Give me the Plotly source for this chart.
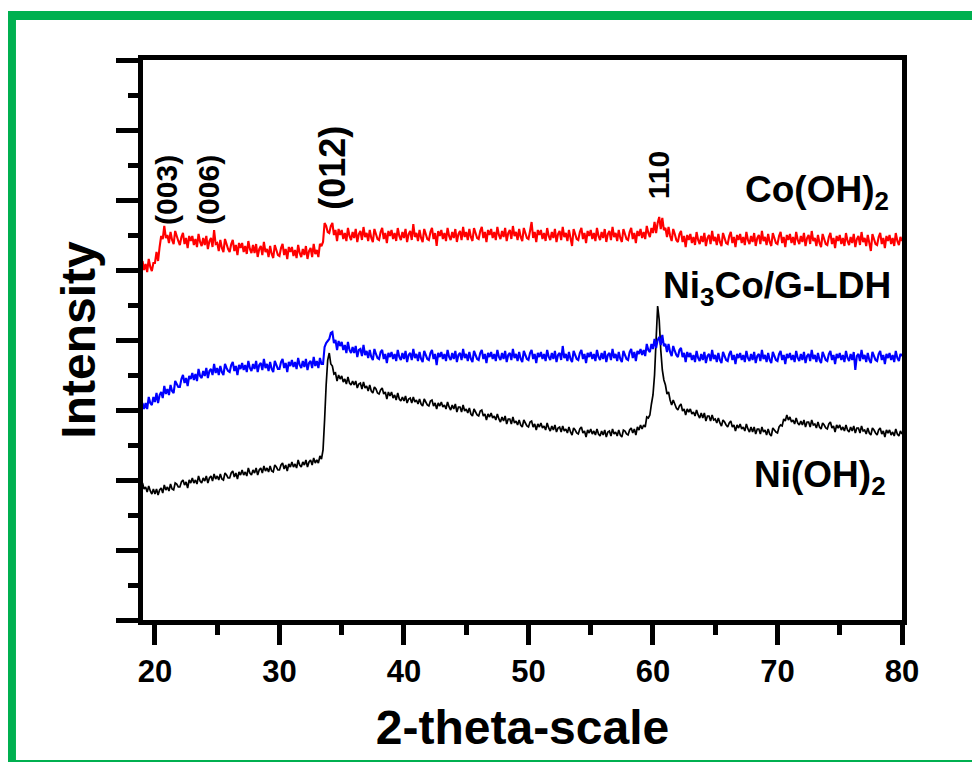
import plotly.graph_objects as go

# 2-theta scan grid (degrees): 8 samples per degree from 19 to 80
two_theta_start = 19.0
two_theta_step = 0.125

# Intensities (arbitrary units, stacked/offset as in the figure), one row per degree
co_oh2 = [
    359, 350, 356, 348, 361, 353, 349, 357,
    357, 368, 359, 373, 384, 381, 394, 382,
    385, 377, 388, 380, 376, 389, 384, 379,
    375, 383, 387, 376, 382, 372, 384, 379,
    384, 375, 381, 373, 386, 378, 374, 382,
    375, 384, 371, 379, 382, 373, 390, 376,
    377, 369, 380, 372, 368, 381, 376, 371,
    368, 376, 380, 369, 375, 365, 377, 372,
    377, 368, 374, 366, 379, 371, 367, 375,
    367, 376, 363, 371, 374, 365, 378, 368,
    371, 363, 374, 366, 362, 375, 370, 365,
    364, 372, 376, 365, 371, 361, 373, 368,
    373, 364, 370, 362, 375, 367, 363, 371,
    365, 374, 361, 369, 372, 363, 376, 366,
    370, 363, 376, 374, 378, 397, 394, 388,
    387, 394, 397, 385, 390, 379, 391, 385,
    390, 381, 387, 379, 392, 384, 380, 388,
    382, 391, 378, 386, 389, 380, 393, 383,
    387, 379, 390, 382, 378, 391, 386, 381,
    380, 388, 392, 381, 387, 377, 389, 384,
    390, 381, 387, 379, 392, 384, 380, 388,
    382, 391, 378, 386, 389, 380, 396, 383,
    387, 379, 390, 382, 378, 391, 386, 381,
    380, 388, 392, 381, 387, 374, 389, 384,
    390, 381, 387, 379, 392, 384, 380, 388,
    382, 391, 378, 386, 389, 380, 393, 383,
    388, 380, 391, 383, 379, 392, 387, 382,
    381, 389, 393, 382, 388, 378, 390, 385,
    391, 382, 388, 380, 393, 385, 381, 389,
    383, 392, 379, 387, 390, 381, 394, 384,
    388, 380, 391, 383, 379, 392, 387, 382,
    381, 389, 398, 382, 388, 378, 390, 385,
    390, 381, 387, 379, 392, 384, 380, 388,
    382, 391, 378, 386, 389, 380, 393, 383,
    387, 379, 390, 382, 374, 391, 386, 381,
    380, 388, 392, 381, 387, 377, 389, 384,
    390, 381, 387, 379, 392, 384, 380, 388,
    382, 391, 378, 386, 389, 380, 393, 383,
    387, 379, 390, 382, 378, 391, 386, 381,
    380, 388, 392, 381, 387, 377, 389, 384,
    391, 382, 388, 381, 394, 387, 383, 392,
    387, 398, 387, 397, 403, 391, 402, 390,
    392, 383, 393, 384, 379, 391, 386, 380,
    378, 386, 389, 378, 384, 373, 385, 380,
    386, 377, 383, 375, 388, 380, 376, 384,
    378, 387, 374, 382, 385, 376, 389, 379,
    383, 375, 386, 378, 374, 387, 382, 377,
    376, 384, 388, 377, 383, 373, 385, 380,
    386, 377, 383, 375, 388, 380, 376, 384,
    378, 387, 374, 382, 385, 376, 389, 379,
    383, 375, 386, 378, 374, 387, 382, 377,
    376, 384, 388, 377, 383, 373, 385, 380,
    386, 377, 383, 375, 388, 380, 376, 384,
    378, 387, 374, 382, 385, 376, 389, 379,
    382, 374, 385, 377, 373, 386, 381, 376,
    375, 383, 387, 376, 382, 372, 384, 379,
    385, 376, 382, 374, 387, 379, 375, 383,
    377, 386, 373, 381, 384, 375, 388, 378,
    382, 374, 385, 377, 369, 386, 381, 376,
    375, 383, 387, 376, 382, 372, 384, 379,
    385, 376, 382, 374, 387, 379, 375, 383,
    379,
]

ni3co_g_ldh = [
    217, 211, 217, 211, 223, 217, 215, 223,
    218, 227, 217, 225, 228, 222, 234, 226,
    231, 225, 235, 229, 227, 239, 236, 233,
    233, 241, 245, 237, 242, 234, 244, 241,
    247, 240, 246, 239, 251, 244, 242, 249,
    244, 252, 242, 249, 251, 245, 256, 247,
    252, 245, 254, 248, 245, 256, 252, 249,
    248, 255, 258, 249, 254, 245, 255, 251,
    257, 250, 255, 248, 259, 252, 249, 256,
    251, 259, 248, 255, 257, 250, 261, 252,
    256, 249, 258, 251, 248, 259, 255, 251,
    251, 258, 261, 252, 257, 248, 258, 254,
    260, 253, 258, 251, 262, 255, 252, 259,
    253, 261, 250, 257, 259, 252, 263, 254,
    259, 252, 262, 256, 256, 273, 277, 279,
    281, 287, 288, 277, 280, 270, 279, 274,
    278, 270, 275, 267, 278, 270, 267, 273,
    267, 274, 263, 270, 271, 264, 275, 265,
    269, 262, 270, 263, 260, 271, 266, 262,
    261, 268, 270, 261, 266, 257, 267, 263,
    268, 261, 266, 259, 270, 263, 260, 267,
    261, 269, 258, 265, 267, 260, 271, 262,
    266, 259, 268, 261, 258, 269, 265, 261,
    260, 267, 270, 261, 266, 255, 267, 263,
    268, 261, 266, 259, 270, 263, 260, 267,
    261, 269, 258, 265, 267, 260, 271, 262,
    266, 259, 268, 261, 258, 269, 265, 261,
    260, 267, 270, 261, 266, 257, 267, 263,
    268, 261, 266, 259, 270, 263, 260, 267,
    261, 269, 258, 265, 267, 260, 271, 262,
    266, 259, 268, 261, 258, 269, 265, 261,
    260, 267, 270, 261, 266, 257, 267, 263,
    268, 261, 266, 259, 270, 263, 260, 267,
    261, 269, 258, 265, 267, 260, 274, 262,
    266, 259, 268, 261, 258, 269, 265, 261,
    260, 267, 270, 261, 266, 257, 267, 263,
    268, 261, 266, 259, 270, 263, 260, 267,
    261, 269, 258, 265, 267, 260, 271, 262,
    266, 259, 268, 261, 258, 269, 265, 261,
    260, 268, 271, 262, 268, 259, 269, 266,
    271, 265, 270, 264, 276, 270, 268, 276,
    271, 281, 272, 280, 283, 275, 285, 274,
    276, 268, 276, 268, 264, 274, 269, 265,
    263, 270, 272, 263, 267, 258, 268, 263,
    267, 260, 265, 258, 269, 262, 259, 266,
    260, 268, 257, 264, 266, 259, 270, 261,
    265, 258, 267, 260, 257, 268, 264, 260,
    259, 266, 269, 260, 265, 256, 266, 262,
    267, 260, 265, 258, 269, 262, 259, 266,
    260, 268, 257, 264, 266, 259, 270, 261,
    265, 258, 267, 260, 257, 268, 264, 260,
    259, 266, 269, 260, 265, 256, 266, 262,
    267, 260, 265, 258, 269, 262, 259, 266,
    260, 268, 257, 264, 266, 259, 270, 261,
    265, 258, 267, 260, 257, 268, 264, 260,
    259, 266, 269, 260, 265, 256, 266, 262,
    267, 260, 265, 258, 269, 262, 259, 266,
    260, 268, 250, 264, 266, 259, 270, 261,
    265, 258, 267, 260, 257, 268, 264, 260,
    259, 266, 269, 260, 265, 256, 266, 262,
    267, 260, 265, 258, 269, 262, 259, 266,
    264,
]

ni_oh2 = [
    137, 131, 133, 128, 134, 129, 126, 131,
    126, 131, 125, 130, 132, 127, 135, 130,
    133, 129, 136, 131, 130, 137, 136, 133,
    133, 138, 140, 135, 138, 132, 140, 137,
    142, 137, 140, 136, 144, 139, 137, 142,
    139, 144, 137, 142, 144, 139, 146, 141,
    144, 140, 146, 141, 140, 147, 145, 142,
    142, 147, 149, 143, 147, 141, 148, 145,
    150, 145, 148, 144, 152, 147, 145, 150,
    147, 152, 145, 150, 152, 147, 154, 149,
    152, 148, 154, 149, 148, 155, 153, 150,
    150, 155, 157, 151, 155, 149, 156, 153,
    158, 153, 156, 152, 160, 155, 153, 158,
    155, 160, 153, 158, 160, 155, 162, 157,
    160, 157, 164, 161, 170, 200, 235, 260,
    267, 256, 254, 246, 247, 239, 245, 241,
    244, 238, 241, 236, 243, 237, 235, 239,
    235, 239, 232, 236, 237, 231, 238, 232,
    234, 229, 235, 229, 227, 233, 231, 227,
    226, 230, 232, 226, 228, 221, 228, 224,
    228, 222, 225, 220, 227, 221, 219, 223,
    219, 224, 217, 221, 222, 217, 223, 218,
    220, 216, 221, 216, 214, 221, 218, 215,
    214, 219, 220, 214, 217, 211, 217, 214,
    218, 213, 215, 211, 218, 213, 210, 215,
    211, 216, 208, 213, 213, 208, 215, 209,
    211, 207, 212, 206, 204, 211, 208, 205,
    204, 209, 210, 204, 206, 200, 206, 203,
    207, 202, 204, 200, 206, 201, 198, 203,
    199, 204, 196, 201, 201, 196, 203, 197,
    199, 195, 200, 195, 193, 200, 197, 194,
    193, 198, 199, 193, 196, 190, 196, 193,
    197, 192, 194, 190, 197, 192, 189, 194,
    190, 195, 188, 192, 193, 188, 194, 189,
    191, 187, 193, 188, 185, 192, 190, 187,
    186, 191, 193, 187, 189, 183, 190, 187,
    191, 186, 189, 185, 191, 186, 184, 189,
    185, 190, 183, 188, 189, 184, 191, 186,
    188, 184, 190, 185, 183, 190, 189, 186,
    185, 190, 192, 187, 191, 185, 193, 190,
    195, 191, 195, 193, 203, 202, 205, 216,
    225, 245, 280, 314, 300, 270, 250, 240,
    235, 226, 228, 220, 215, 220, 216, 212,
    210, 214, 216, 209, 211, 205, 211, 208,
    211, 206, 208, 204, 210, 205, 202, 207,
    202, 207, 199, 204, 204, 199, 205, 200,
    201, 197, 202, 197, 194, 200, 198, 195,
    193, 197, 199, 193, 195, 189, 195, 192,
    196, 191, 193, 189, 196, 191, 188, 193,
    188, 193, 186, 191, 191, 186, 193, 188,
    190, 185, 191, 186, 184, 192, 190, 188,
    187, 193, 195, 194, 201, 199, 205, 200,
    203, 198, 200, 196, 202, 197, 195, 199,
    195, 200, 193, 198, 198, 193, 200, 195,
    196, 192, 198, 193, 191, 197, 195, 192,
    191, 196, 198, 192, 194, 188, 195, 192,
    195, 190, 193, 189, 195, 190, 188, 193,
    189, 194, 187, 192, 192, 187, 194, 189,
    190, 186, 192, 187, 185, 192, 190, 187,
    185, 190, 192, 186, 189, 183, 190, 187,
    190, 185, 188, 184, 191, 186, 184, 189,
    186,
]

series_names = ["Ni(OH)<sub>2</sub>", "Ni<sub>3</sub>Co/G-LDH", "Co(OH)<sub>2</sub>"]
series_colors = ["#000000", "#0000FF", "#FF0000"]
series_values = [ni_oh2, ni3co_g_ldh, co_oh2]
series_widths = [1.7, 2.1, 2.1]

# Peak (hkl) labels: text, 2-theta position, intensity position
peak_labels = ["(003)", "(006)", "(012)", "110"]
peak_x = [20.88, 24.25, 34.2, 60.42]
peak_y = [430, 430, 452, 445]
peak_sizes = [30, 30, 36, 30]

# Curve labels
curve_label_x = [78.9, 79.3, 79.1]
curve_label_y = [143, 332, 428]

FONT = "Liberation Sans, Arial, sans-serif"

fig = go.Figure()
for name, color, vals, w in zip(series_names, series_colors, series_values, series_widths):
    xs = [two_theta_start + i * two_theta_step for i in range(len(vals))]
    fig.add_trace(go.Scatter(x=xs, y=vals, mode="lines", name=name,
                             line=dict(color=color, width=w, simplify=False),
                             showlegend=False))

for txt, xx, yy, sz in zip(peak_labels, peak_x, peak_y, peak_sizes):
    fig.add_annotation(x=xx, y=yy, text=txt, showarrow=False,
                       textangle=-90, xanchor="center", yanchor="middle",
                       font=dict(family=FONT, size=sz, color="black", weight="bold"))

for txt, xx, yy in zip(series_names, curve_label_x, curve_label_y):
    fig.add_annotation(x=xx, y=yy, text=txt, showarrow=False,
                       xanchor="right", yanchor="middle",
                       font=dict(family=FONT, size=37, color="black", weight="bold"))

# green frame around the figure
fig.add_shape(type="rect", xref="paper", yref="paper",
              x0=-0.1733, x1=1.11, y0=-0.258, y1=1.0795,
              line=dict(color="#00B050", width=9), layer="below")

fig.update_layout(
    width=980, height=762,
    margin=dict(l=135, r=86, t=52, b=150),
    paper_bgcolor="white", plot_bgcolor="white",
    font=dict(family=FONT, color="black"),
)
fig.update_xaxes(
    range=[19.04, 80], tickmode="linear", tick0=20, dtick=10,
    ticks="outside", ticklen=20, tickwidth=5, tickcolor="black",
    minor=dict(ticks="outside", dtick=5, tick0=20, ticklen=10, tickwidth=5, tickcolor="black"),
    showline=True, linewidth=5, linecolor="black", mirror=True,
    showgrid=False, zeroline=False,
    tickfont=dict(family=FONT, size=31, color="black", weight="bold"),
    title=dict(text="2-theta-scale", font=dict(family=FONT, size=48, color="black", weight="bold"), standoff=24),
)
fig.update_yaxes(
    range=[0, 560], tickmode="linear", tick0=0, dtick=70,
    ticks="outside", ticklen=22, tickwidth=5, tickcolor="black",
    minor=dict(ticks="outside", dtick=35, tick0=0, ticklen=10, tickwidth=5, tickcolor="black"),
    showline=True, linewidth=5, linecolor="black", mirror=True,
    showgrid=False, zeroline=False, showticklabels=False,
    title=dict(text="Intensity", font=dict(family=FONT, size=48, color="black", weight="bold"), standoff=7),
)

fig.write_html("out.html")
